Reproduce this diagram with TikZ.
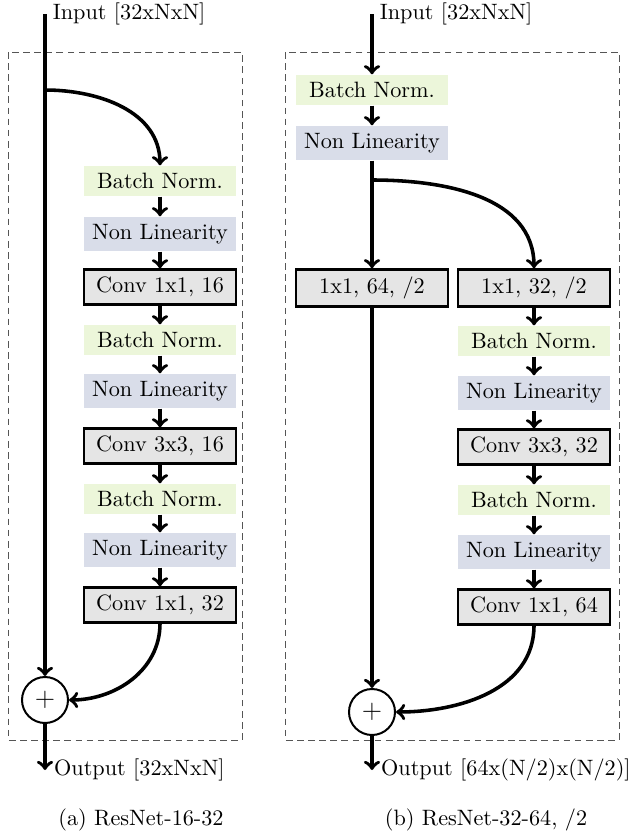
\documentclass[tikz,border=0pt]{standalone}
\usetikzlibrary{arrows, positioning}

\definecolor{bngreen}{RGB}{236,246,218}
\definecolor{nlblue}{RGB}{217,221,233}
\definecolor{convgray}{RGB}{229,229,229}
\definecolor{framegray}{RGB}{85,85,85}

\tikzset{
    layer/.style={minimum width=68.4pt},
    bnbox/.style={layer, fill=bngreen},
    nlbox/.style={layer, fill=nlblue},
    convbox/.style={layer, fill=convgray, draw, line width=1.1pt},
    sumnode/.style={circle, draw, line width=0.9pt, minimum size=20.7pt, inner sep=0pt, font=\large},
    arr/.style={ultra thick, ->},
    frame/.style={framegray, thin, dash pattern=on 3pt off 2pt}
}

\begin{document}
\begin{tikzpicture}[x=0.45pt, y=-0.45pt]
    \useasboundingbox (0,0) rectangle (635,832);

    %% frames
    \draw[frame] (8,52) rectangle (242,740);
    \draw[frame] (285,52) rectangle (619,740);

    %% (a) ResNet-16-32
    \coordinate (inA) at (45,14);
    \coordinate (splitA) at (45,90);
    \coordinate (outA) at (45,770);
    \node[bnbox]   (bnA1) at (160,181) {Batch Norm.};
    \node[nlbox]   (nlA1) at (160,234) {Non Linearity};
    \node[convbox] (cvA1) at (160,287) {Conv 1x1, 16};
    \node[bnbox]   (bnA2) at (160,340) {Batch Norm.};
    \node[nlbox]   (nlA2) at (160,391) {Non Linearity};
    \node[convbox] (cvA2) at (160,446) {Conv 3x3, 16};
    \node[bnbox]   (bnA3) at (160,499) {Batch Norm.};
    \node[nlbox]   (nlA3) at (160,550) {Non Linearity};
    \node[convbox] (cvA3) at (160,605) {Conv 1x1, 32};
    \node[sumnode] (plusA) at (45,700) {$+$};

    \node[anchor=west] at (inA) {Input [32xNxN]};
    \draw[arr] (inA) -- (plusA);
    \draw[arr] (splitA) to[out=0, in=90] (bnA1);
    \foreach \a/\b in {bnA1/nlA1, nlA1/cvA1, cvA1/bnA2, bnA2/nlA2, nlA2/cvA2, cvA2/bnA3, bnA3/nlA3, nlA3/cvA3}
        \draw[arr] (\a) -- (\b);
    \draw[arr] (cvA3) to[out=-90, in=0] (plusA);
    \draw[arr] (plusA) -- (outA) node[anchor=west] {Output [32xNxN]};
    \node (capA) at (141,820) {(a) ResNet-16-32};

    %% (b) ResNet-32-64, /2
    \coordinate (inB) at (372,14);
    \coordinate (splitB) at (372,180);
    \coordinate (outB) at (372,770);
    \node[bnbox]   (bnB0) at (372,90) {Batch Norm.};
    \node[nlbox]   (nlB0) at (372,143) {Non Linearity};
    \node[convbox] (dsB)  at (372,288) {1x1, 64, /2};
    \node[convbox] (cvB0) at (534,288) {1x1, 32, /2};
    \node[bnbox]   (bnB1) at (534,341) {Batch Norm.};
    \node[nlbox]   (nlB1) at (534,393) {Non Linearity};
    \node[convbox] (cvB1) at (534,447) {Conv 3x3, 32};
    \node[bnbox]   (bnB2) at (534,500) {Batch Norm.};
    \node[nlbox]   (nlB2) at (534,552) {Non Linearity};
    \node[convbox] (cvB2) at (534,607) {Conv 1x1, 64};
    \node[sumnode] (plusB) at (372,712) {$+$};

    \node[anchor=west] at (inB) {Input [32xNxN]};
    \draw[arr] (inB) -- (bnB0);
    \draw[arr] (bnB0) -- (nlB0);
    \draw[arr] (nlB0) -- (dsB);
    \draw[arr] (splitB) to[out=0, in=90] (cvB0);
    \foreach \a/\b in {cvB0/bnB1, bnB1/nlB1, nlB1/cvB1, cvB1/bnB2, bnB2/nlB2, nlB2/cvB2}
        \draw[arr] (\a) -- (\b);
    \draw[arr] (dsB) -- (plusB);
    \draw[arr] (cvB2) to[out=-90, in=0] (plusB);
    \draw[arr] (plusB) -- (outB) node[anchor=west] {Output [64x(N/2)x(N/2)]};
    \node (capB) at (486,820) {(b) ResNet-32-64, /2};
\end{tikzpicture}
\end{document}
